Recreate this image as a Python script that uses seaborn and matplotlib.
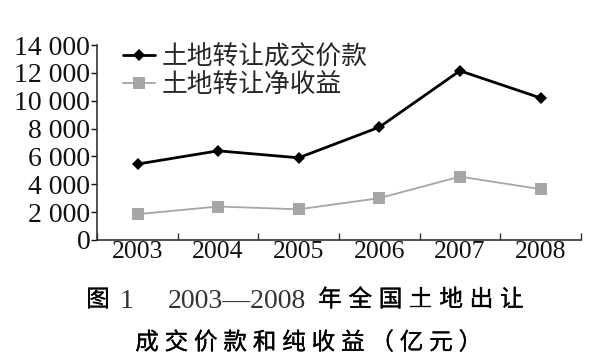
import matplotlib
matplotlib.use("Agg")
import matplotlib.pyplot as plt
import matplotlib.patheffects as pe
import seaborn as sns
import pandas as pd
from matplotlib.ticker import FixedLocator, FuncFormatter
from matplotlib.lines import Line2D

years = ["2003", "2004", "2005", "2006", "2007", "2008"]
price = [5450, 6400, 5900, 8100, 12150, 10200]
net = [1850, 2400, 2200, 3000, 4550, 3650]
series_names = ["土地转让成交价款", "土地转让净收益"]
yticks = [0, 2000, 4000, 6000, 8000, 10000, 12000, 14000]
caption1 = ["图", "1", "2003—2008", "年", "全", "国", "土", "地", "出", "让"]
caption2 = list("成交价款和纯收益（亿元）")

sns.set_theme(style="white")
plt.rcParams["font.family"] = ["Liberation Serif", "Noto Sans CJK SC", "DejaVu Sans"]

df = pd.DataFrame({
    "year": years * 2,
    "value": price + net,
    "series": [series_names[0]] * len(years) + [series_names[1]] * len(years),
})
df["pos"] = df["year"].map({y: i for i, y in enumerate(years)})

fig = plt.figure(figsize=(6.0, 3.63), dpi=100)
ax = fig.add_axes([0.162, 0.339, 0.806, 0.537])

palette = {series_names[0]: "#000000", series_names[1]: "#a6a6a6"}
markers = {series_names[0]: "D", series_names[1]: "s"}
sns.lineplot(data=df, x="pos", y="value", hue="series", style="series",
             palette=palette, markers=markers, dashes=False, ax=ax,
             markeredgewidth=0, legend=False)
lines = ax.get_lines()
lines[0].set_linewidth(2.0)
lines[0].set_markersize(6)
lines[1].set_linewidth(1.3)
lines[1].set_markersize(8)

ax.set_xlim(-0.5, len(years) - 0.5)
ax.set_ylim(0, 14000)
ax.set_xlabel("")
ax.set_ylabel("")
ax.xaxis.set_major_locator(FixedLocator(range(len(years))))
ax.set_xticklabels(years)
ax.xaxis.set_minor_locator(FixedLocator([i - 0.5 for i in range(len(years) + 1)]))
ax.tick_params(axis="x", which="major", length=0, labelsize=18.5, pad=1, colors="#111111")
ax.tick_params(axis="x", which="minor", direction="in", length=5, width=1.0, color="#333333", bottom=True)
ax.set_yticks(yticks)
ax.yaxis.set_major_formatter(FuncFormatter(lambda v, p: f"{int(v):,}".replace(",", " ")))
ax.tick_params(axis="y", direction="out", length=4, width=1.0, labelsize=20, pad=1, colors="#111111", left=True)
for s in ["top", "right"]:
    ax.spines[s].set_visible(False)
for s in ["left", "bottom"]:
    ax.spines[s].set_color("#333333")
    ax.spines[s].set_linewidth(1.2)

handles = [Line2D([], [], color="#000000", lw=2.0, marker="D", ms=6, mew=0),
           Line2D([], [], color="#a6a6a6", lw=1.3, marker="s", ms=8, mew=0)]
leg = ax.legend(handles, series_names, loc="upper left", bbox_to_anchor=(0.026, 1.07),
                frameon=False, handlelength=1.25, handletextpad=0.25,
                labelspacing=0.08, borderpad=0,
                prop={"family": ["Noto Sans CJK SC"], "size": 18.5})

# caption
W, H = 600, 363
stroke = [pe.withStroke(linewidth=0.2, foreground="#000000")]
def put(x, y, s, size=17, family=None, color="#000000", effects=stroke):
    fig.text(x / W, 1 - y / H, s, ha="center", va="center", fontsize=size,
             family=family or ["Noto Sans CJK SC"], color=color,
             path_effects=effects)

put(98, 300, caption1[0])
put(127, 301, caption1[1], family=["Liberation Serif"], size=20, color="#333333", effects=None)
put(237, 301, caption1[2], family=["Liberation Serif"], size=20, color="#333333", effects=None)
x0 = 330
for i, ch in enumerate(caption1[3:]):
    put(x0 + i * 30.3, 300, ch)
x1 = 147
for i, ch in enumerate(caption2):
    put(x1 + i * 29.4, 343, ch)

fig.savefig("out.png", dpi=100)
